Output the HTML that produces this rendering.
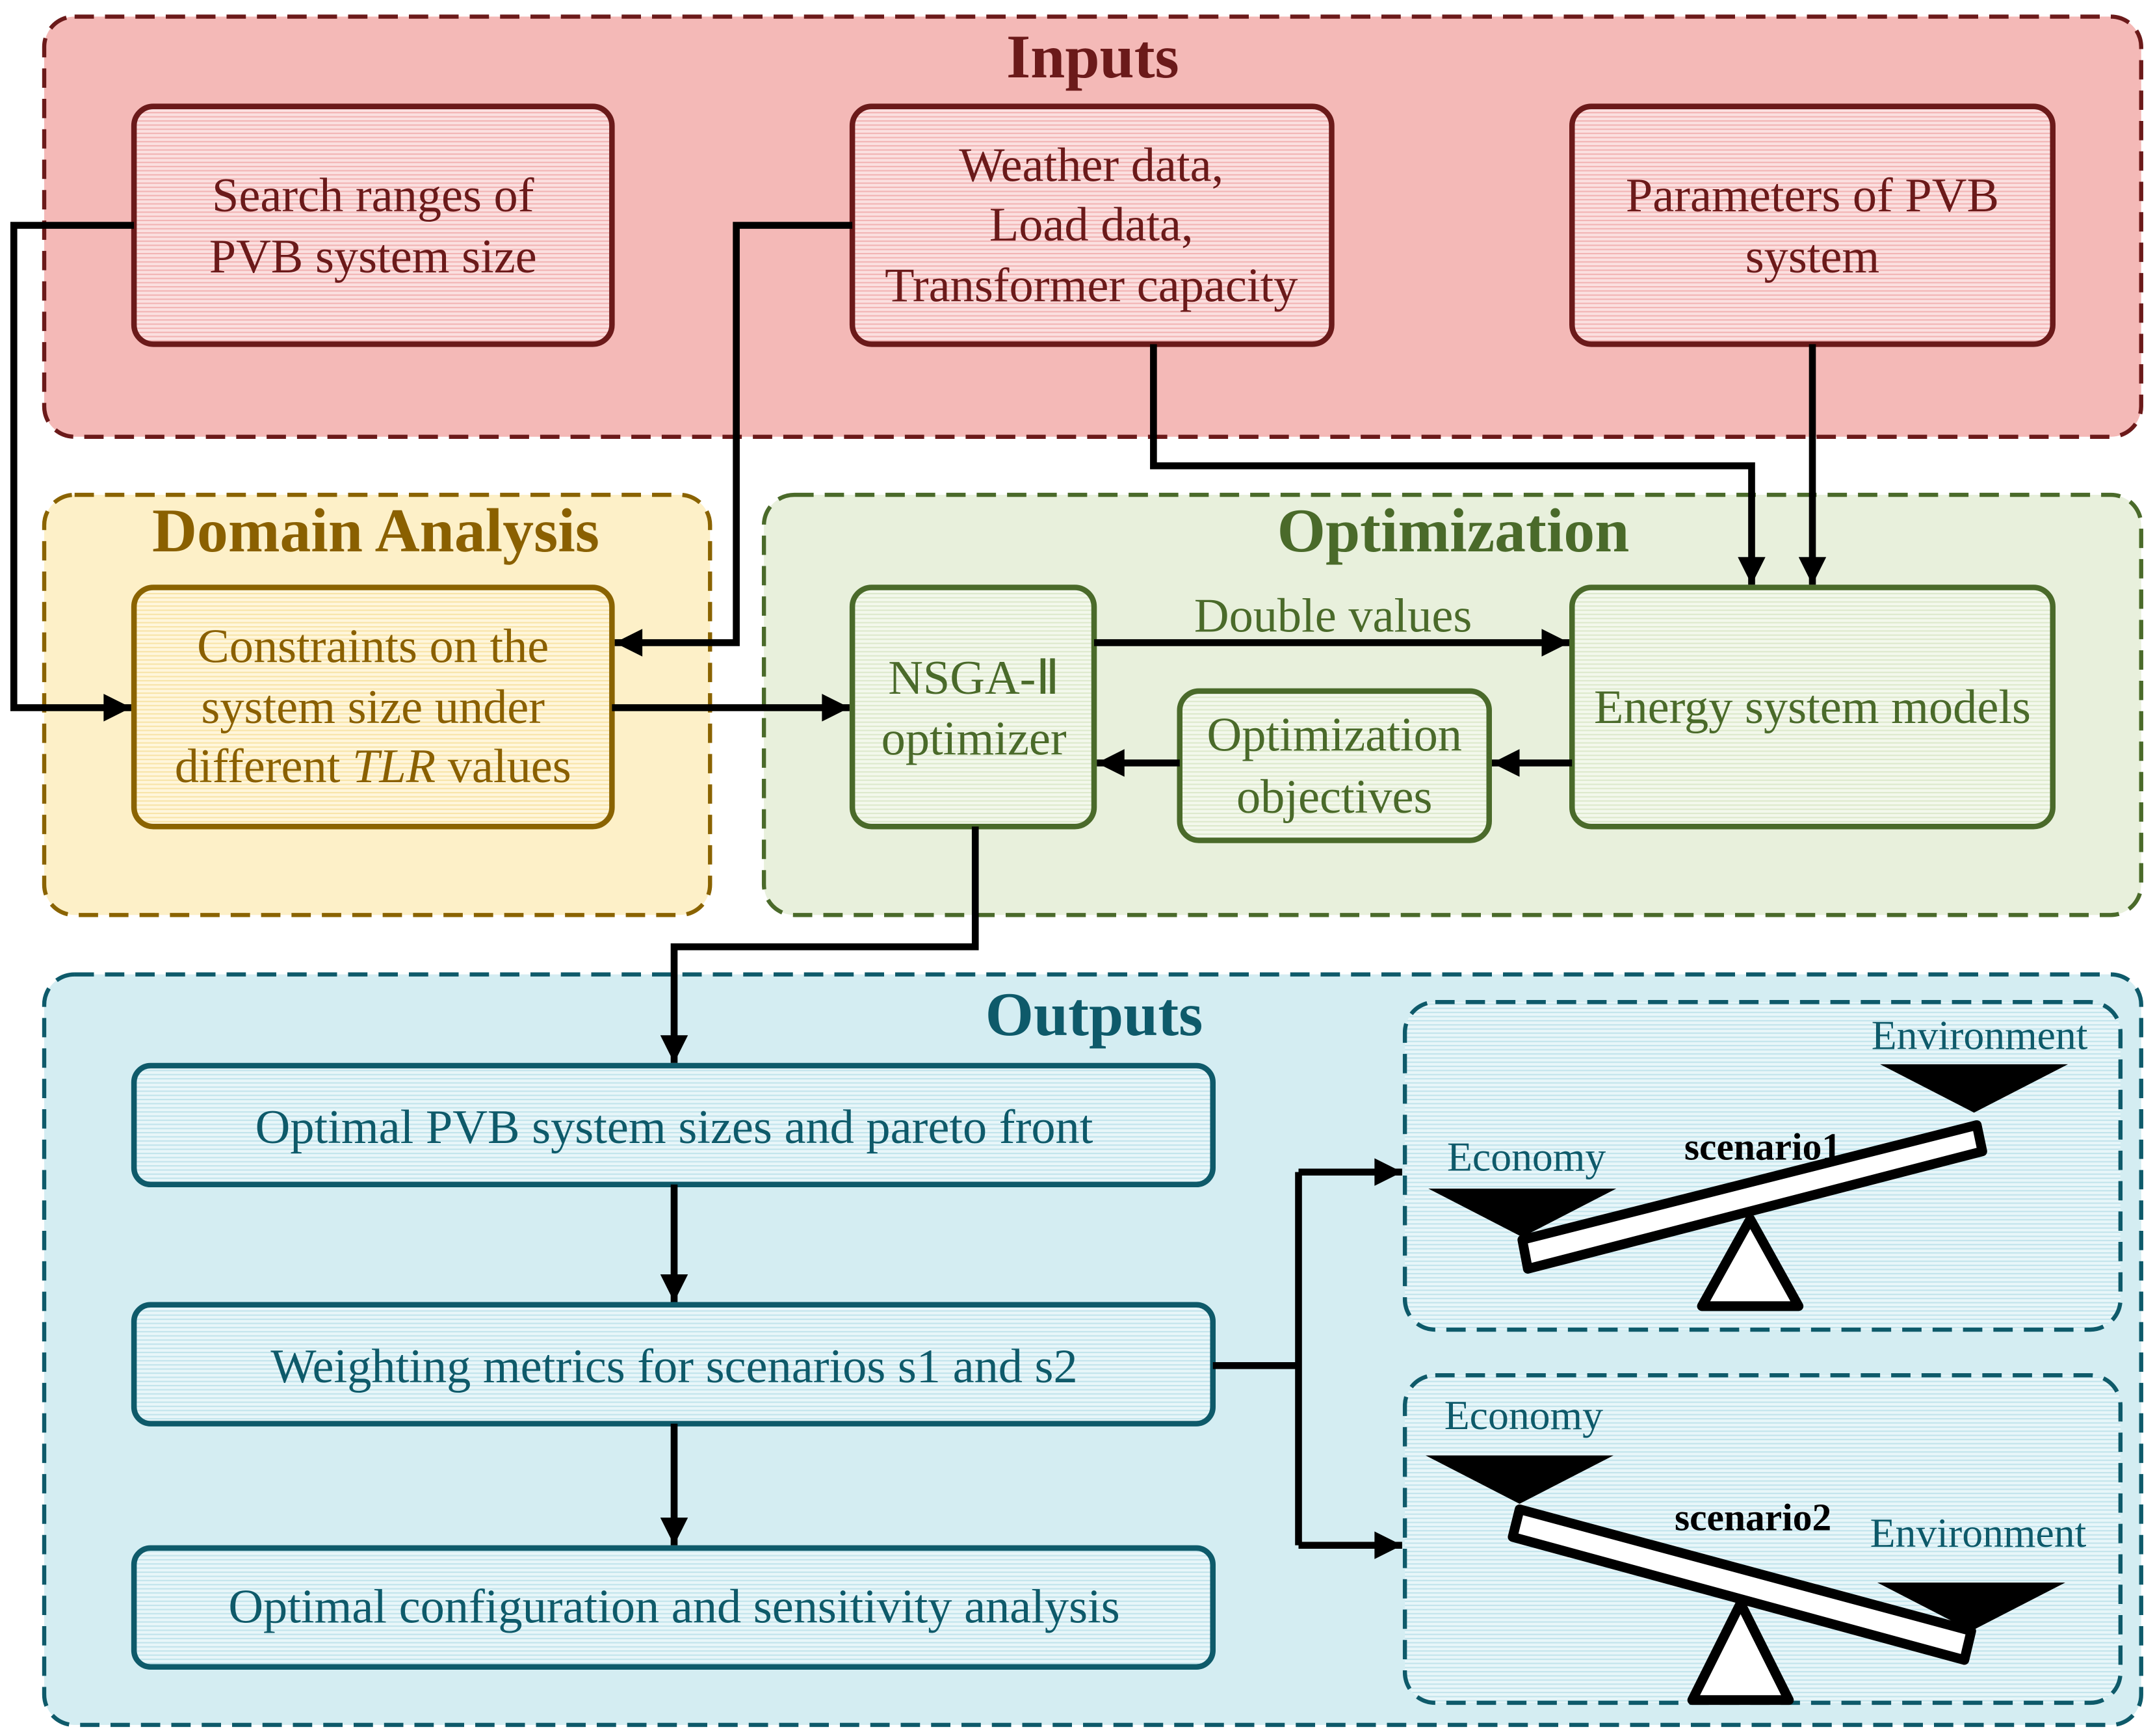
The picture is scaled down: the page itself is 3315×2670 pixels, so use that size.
<!DOCTYPE html>
<html><head><meta charset="utf-8"><style>html,body{margin:0;padding:0;background:#fff}svg{display:block}</style></head><body>
<svg width="3315" height="2670" viewBox="0 0 1560 1256" preserveAspectRatio="none" xmlns="http://www.w3.org/2000/svg" font-family="Liberation Serif, serif">
<defs>
<pattern id="pr" width="4" height="3" patternUnits="userSpaceOnUse"><rect width="4" height="3" fill="#fbe0e0"/><rect width="4" height="1" fill="#f2b4b4"/></pattern>
<pattern id="py" width="4" height="3" patternUnits="userSpaceOnUse"><rect width="4" height="3" fill="#fff6dc"/><rect width="4" height="1" fill="#f8e4a8"/></pattern>
<pattern id="pg" width="4" height="3" patternUnits="userSpaceOnUse"><rect width="4" height="3" fill="#f3f8ec"/><rect width="4" height="1" fill="#dde9cc"/></pattern>
<pattern id="pb" width="4" height="3" patternUnits="userSpaceOnUse"><rect width="4" height="3" fill="#e8f6f9"/><rect width="4" height="1" fill="#c2e4ec"/></pattern>
<marker id="a" viewBox="0 0 10 10" refX="10" refY="5" markerWidth="5" markerHeight="4" orient="auto" markerUnits="strokeWidth"><path d="M0,0L10,5L0,10z" fill="#000"/></marker>
</defs>
<rect x="32" y="12" width="1518" height="304" rx="22" fill="#f4b9b7" stroke="#6b1a1a" stroke-width="3" stroke-dasharray="14,8"/>
<rect x="32" y="358" width="482" height="304" rx="22" fill="#fdf0c8" stroke="#8a6300" stroke-width="3" stroke-dasharray="14,8"/>
<rect x="553" y="358" width="997" height="304" rx="22" fill="#e8f0dc" stroke="#4a6a2a" stroke-width="3" stroke-dasharray="14,8"/>
<rect x="32" y="705" width="1518" height="543" rx="22" fill="#d4edf2" stroke="#0e5a6a" stroke-width="3" stroke-dasharray="14,8"/>
<g font-weight="bold" font-size="45" text-anchor="middle">
<text x="791" y="56" fill="#6b1a1a">Inputs</text>
<text x="272" y="399" fill="#8a6000">Domain Analysis</text>
<text x="1052" y="399" fill="#4a6a2a">Optimization</text>
<text x="792" y="749" fill="#0e5a6a">Outputs</text>
</g>
<g fill="url(#pr)" stroke="#6b1a1a" stroke-width="4">
<rect x="97" y="77" width="346" height="172" rx="14"/>
<rect x="617" y="77" width="347" height="172" rx="14"/>
<rect x="1138" y="77" width="348" height="172" rx="14"/>
</g>
<g fill="#6b1a1a" font-size="35" text-anchor="middle">
<text x="270" y="153">Search ranges of</text><text x="270" y="197">PVB system size</text>
<text x="790" y="131">Weather data,</text><text x="790" y="174">Load data,</text><text x="790" y="218">Transformer capacity</text>
<text x="1312" y="153">Parameters of PVB</text><text x="1312" y="197">system</text>
</g>
<rect x="97" y="425" width="346" height="173" rx="14" fill="url(#py)" stroke="#8a6300" stroke-width="4"/>
<g fill="#8a6000" font-size="35" text-anchor="middle">
<text x="270" y="479">Constraints on the</text><text x="270" y="523">system size under</text><text x="270" y="566">different <tspan font-style="italic">TLR</tspan> values</text>
</g>
<g fill="url(#pg)" stroke="#4a6a2a" stroke-width="4">
<rect x="617" y="425" width="175" height="173" rx="14"/>
<rect x="1138" y="425" width="348" height="173" rx="14"/>
<rect x="854" y="500" width="224" height="108" rx="14"/>
</g>
<g fill="#4a6a2a" font-size="35" text-anchor="middle">
<text x="705" y="502">NSGA-Ⅱ</text><text x="705" y="546">optimizer</text>
<text x="1312" y="523">Energy system models</text>
<text x="966" y="543">Optimization</text><text x="966" y="588">objectives</text>
<text x="965" y="457">Double values</text>
</g>
<g fill="url(#pb)" stroke="#0e5a6a" stroke-width="4">
<rect x="97" y="771" width="781" height="86" rx="12"/>
<rect x="97" y="944" width="781" height="86" rx="12"/>
<rect x="97" y="1120" width="781" height="86" rx="12"/>
</g>
<g fill="#0e5a6a" font-size="35" text-anchor="middle">
<text x="488" y="827">Optimal PVB system sizes and pareto front</text>
<text x="488" y="1000">Weighting metrics for scenarios s1 and s2</text>
<text x="488" y="1174">Optimal configuration and sensitivity analysis</text>
</g>
<g fill="url(#pb)" stroke="#0e5a6a" stroke-width="3" stroke-dasharray="14,8">
<rect x="1017" y="725" width="518" height="237" rx="22"/>
<rect x="1017" y="995" width="518" height="237" rx="22"/>
</g>
<g fill="none" stroke="#000" stroke-width="5">
<path d="M97,163H10V512H95" marker-end="url(#a)"/>
<path d="M617,163H533V465H445" marker-end="url(#a)"/>
<path d="M443,512H615" marker-end="url(#a)"/>
<path d="M835,249V337H1268V423" marker-end="url(#a)"/>
<path d="M1312,249V423" marker-end="url(#a)"/>
<path d="M792,465H1136" marker-end="url(#a)"/>
<path d="M1138,552H1080" marker-end="url(#a)"/>
<path d="M854,552H794" marker-end="url(#a)"/>
<path d="M706,598V685H488V769" marker-end="url(#a)"/>
<path d="M488,857V942" marker-end="url(#a)"/>
<path d="M488,1030V1118" marker-end="url(#a)"/>
<path d="M878,988H940"/>
<path d="M940,848V1118"/>
<path d="M940,848H1015" marker-end="url(#a)"/>
<path d="M940,1118H1015" marker-end="url(#a)"/>
</g>
<polygon points="1034,860 1170,860 1102,895" fill="#000"/>
<polygon points="1361,770 1497,770 1429,805" fill="#000"/>
<polygon points="1102,897 1431,814 1435,833 1106,918" fill="#fff" stroke="#000" stroke-width="7" stroke-linejoin="round"/>
<polygon points="1267,882 1232,945 1302,945" fill="#fff" stroke="#000" stroke-width="7" stroke-linejoin="round"/>
<g font-size="30" fill="#0e5a6a" text-anchor="middle">
<text x="1105" y="847">Economy</text><text x="1433" y="759">Environment</text>
<text x="1103" y="1034">Economy</text><text x="1432" y="1119">Environment</text>
</g>
<text x="1276" y="839" font-size="28" font-weight="bold" text-anchor="middle">scenario1</text>
<polygon points="1032,1053 1168,1053 1100,1088" fill="#000"/>
<polygon points="1359,1145 1495,1145 1427,1180" fill="#000"/>
<polygon points="1100,1092 1427,1180 1422,1201 1095,1112" fill="#fff" stroke="#000" stroke-width="7" stroke-linejoin="round"/>
<polygon points="1260,1160 1225,1230 1295,1230" fill="#fff" stroke="#000" stroke-width="7" stroke-linejoin="round"/>
<text x="1269" y="1107" font-size="28" font-weight="bold" text-anchor="middle">scenario2</text>
</svg>
</body></html>
